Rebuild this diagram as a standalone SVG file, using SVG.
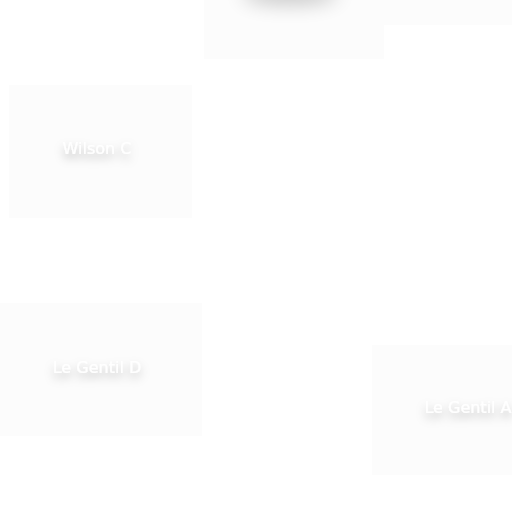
<svg xmlns="http://www.w3.org/2000/svg" width="512" height="512" viewBox="0 0 512 512">
<defs>
<filter id="ts" x="-30%" y="-80%" width="160%" height="280%">
<feGaussianBlur in="SourceAlpha" stdDeviation="5"/>
<feOffset dx="0" dy="5" result="b"/>
<feFlood flood-color="#000" flood-opacity="0.28"/>
<feComposite in2="b" operator="in" result="s"/>
<feMerge><feMergeNode in="s"/><feMergeNode in="SourceGraphic"/></feMerge>
</filter>
<filter id="blur" x="-50%" y="-150%" width="200%" height="400%">
<feGaussianBlur stdDeviation="10"/>
</filter>
</defs>
<style>
.box{fill:#fcfcfc;}
.lbl{font-family:"DejaVu Sans",Verdana,sans-serif;font-size:16px;fill:#ffffff;text-anchor:middle;filter:url(#ts);}
</style>
<rect width="512" height="512" fill="#ffffff"/>
<g id="node-top-right"><rect class="box" x="339" y="-110" width="200" height="135"/></g>
<g id="node-top"><rect class="box" x="204" y="-75" width="180" height="134"/>
<ellipse cx="290" cy="-6" rx="48" ry="10" fill="#000" opacity="0.22" filter="url(#blur)"/></g>
<g id="node-wilson-c"><rect class="box" x="9" y="85" width="183" height="133"/><text class="lbl" x="97" y="154">Wilson C</text></g>
<g id="node-le-gentil-d"><rect class="box" x="0" y="303" width="202" height="133"/><text class="lbl" x="97" y="373">Le Gentil D</text></g>
<g id="node-le-gentil-a"><rect class="box" x="372" y="345" width="190" height="130"/><text class="lbl" x="468" y="413">Le Gentil A</text></g>
<g id="connectors"></g>
</svg>
